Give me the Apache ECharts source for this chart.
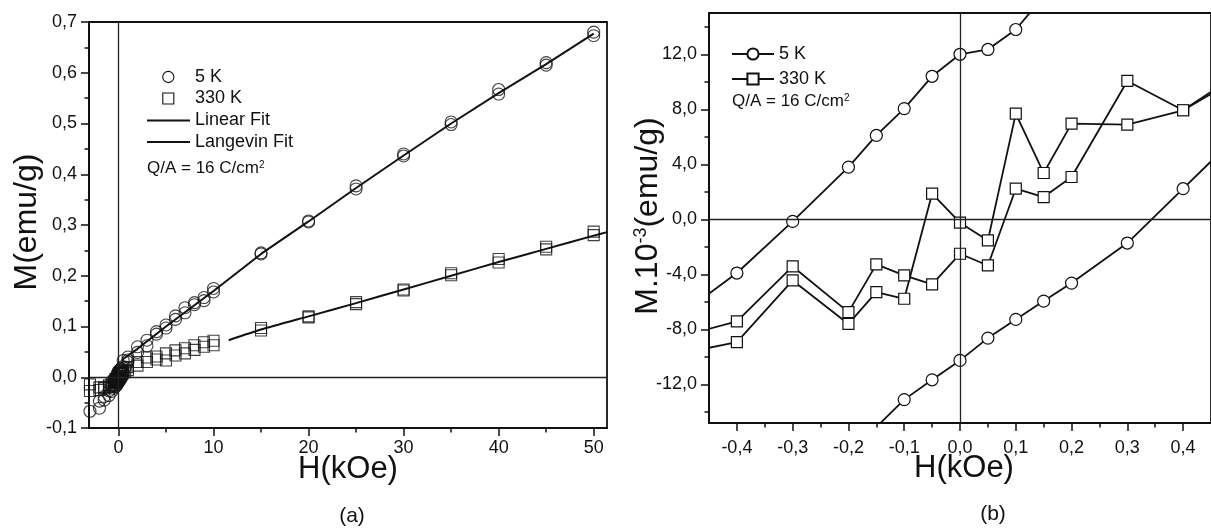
<!DOCTYPE html>
<html>
<head>
<meta charset="utf-8">
<script src="https://cdn.jsdelivr.net/npm/echarts@6.0.0/dist/echarts.min.js"></script>
<style>
html,body{margin:0;padding:0;background:#fff;}
#chart{width:1211px;height:528px;}
</style>
</head>
<body>
<div id="chart"></div>
<script>
// ---------- Panel (a): M (emu/g) vs H (kOe) ----------
const a5K = [[50,0.68],[50,0.673],[45,0.62],[45,0.615],[40,0.567],[40,0.558],[35,0.503],[35,0.498],
  [30,0.44],[30,0.436],[25,0.377],[25,0.371],[20,0.308],[20,0.306],[15,0.245],[15,0.243],
  [10,0.175],[10,0.168],[9,0.157],[9,0.151],[8,0.147],[8,0.143],[7,0.137],[7,0.127],
  [6,0.121],[6,0.114],[5,0.103],[5,0.097],[4,0.09],[4,0.085],[3,0.073],[3,0.062],
  [2,0.06],[2,0.049],[1,0.04],[1,0.034],[0.5,0.033],[0.4,0.0205],[0.3,0.0175],[0.2,0.0155],
  [0.1,0.0138],[0,0.012],[-0.1,0.008],[-0.2,0.0038],[-0.3,-0.0002],[-0.4,-0.0039],[-0.5,-0.009],
  [-0.7,-0.018],[-1,-0.027],[-1.5,-0.038],[-2,-0.047],[-3,-0.067],[-2,-0.061],[-1.5,-0.045],
  [-1,-0.036],[-0.7,-0.028],[-0.5,-0.022],[-0.4,-0.019],[-0.3,-0.018],[-0.2,-0.0165],[-0.1,-0.0131],
  [0,-0.0103],[0.1,-0.0073],[0.2,-0.0046],[0.3,-0.0017],[0.4,0.0022],[0.5,0.008],[0.7,0.02],[1,0.03]];
const a330K = [[50,0.287],[50,0.28],[45,0.257],[45,0.252],[40,0.233],[40,0.226],[35,0.205],[35,0.201],
  [30,0.173],[30,0.171],[25,0.148],[25,0.144],[20,0.12],[20,0.118],[15,0.097],[15,0.092],
  [10,0.072],[10,0.063],[9,0.069],[9,0.06],[8,0.063],[8,0.054],[7,0.057],[7,0.047],
  [6,0.053],[6,0.043],[5,0.047],[5,0.033],[4,0.041],[4,0.035],[3,0.039],[3,0.03],
  [2,0.03],[2,0.023],[1,0.02],[1,0.014],[0.5,0.012],[0.4,0.008],[0.3,0.01],[0.2,0.007],
  [0.1,0.0077],[0,-0.0002],[-0.1,-0.004],[-0.2,-0.0067],[-0.3,-0.0034],[-0.4,-0.0074],[-0.5,-0.009],
  [-0.7,-0.012],[-1,-0.016],[-1.5,-0.02],[-2,-0.02],[-3,-0.027],[-3,-0.014],[-2,-0.025],
  [-1.5,-0.022],[-1,-0.019],[-0.7,-0.015],[-0.5,-0.011],[-0.4,-0.0089],[-0.3,-0.0044],[-0.2,-0.0076],
  [-0.1,-0.0058],[0,-0.0025],[0.1,0.0022],[0.2,0.0031],[0.3,0.0069],[0.4,0.0079],[0.5,0.009],[0.7,0.011]];
const aLinearFit = [[0.35,0.034],[2,0.056],[5,0.1],[10,0.17],[15,0.243],[20,0.307],[25,0.373],
  [30,0.437],[35,0.5],[40,0.56],[45,0.617],[50,0.677]];
const aLangevinFit = [[11.6,0.073],[15,0.094],[20,0.12],[25,0.146],[30,0.173],[35,0.2],
  [40,0.227],[45,0.253],[50,0.279],[51.4,0.286]];
const aXTicks = [0,10,20,30,40,50];
const aXMinor = [5,15,25,35,45];
const aYTicks = [-0.1,0,0.1,0.2,0.3,0.4,0.5,0.6,0.7];
const aYMinor = [-0.05,0.05,0.15,0.25,0.35,0.45,0.55,0.65];
const aLegendNames = ['5 K', '330 K', 'Linear Fit', 'Langevin Fit'];

// ---------- Panel (b): M (10^-3 emu/g) vs H (kOe), low field ----------
const b5KUpper = [[-0.5,-6.9],[-0.4,-3.9],[-0.3,-0.15],[-0.2,3.8],[-0.15,6.1],[-0.1,8.05],
  [-0.05,10.4],[0,12.0],[0.05,12.35],[0.1,13.8],[0.15,16.2]];
const b5KLower = [[-0.2,-16.5],[-0.15,-15.1],[-0.1,-13.1],[-0.05,-11.66],[0,-10.25],[0.05,-8.63],
  [0.1,-7.27],[0.15,-5.94],[0.2,-4.63],[0.3,-1.72],[0.4,2.23],[0.5,6.2]];
const b330KA = [[-0.5,-8.5],[-0.4,-7.42],[-0.3,-3.42],[-0.2,-6.74],[-0.15,-3.27],[-0.1,-4.07],
  [-0.05,-4.73],[0,-2.5],[0.05,-3.35],[0.1,2.23],[0.15,1.62],[0.2,3.08],[0.3,10.06],[0.4,7.93],[0.5,10.6]];
const b330KB = [[-0.5,-9.75],[-0.4,-8.92],[-0.3,-4.44],[-0.2,-7.6],[-0.15,-5.29],[-0.1,-5.77],
  [-0.05,1.87],[0,-0.24],[0.05,-1.53],[0.1,7.69],[0.15,3.37],[0.2,6.96],[0.3,6.89],[0.4,7.93],[0.5,10.3]];
const bXTicks = [-0.4,-0.3,-0.2,-0.1,0,0.1,0.2,0.3,0.4];
const bXMinor = [-0.35,-0.25,-0.15,-0.05,0.05,0.15,0.25,0.35];
const bYTicks = [-12,-8,-4,0,4,8,12];
const bYMinor = [-14,-10,-6,-2,2,6,10,14];

const FONT = '"Liberation Sans", Arial, sans-serif';
const INK = '#111';
const comma1 = v => (Math.abs(v) < 1e-9 ? 0 : v).toFixed(1).replace('.', ',');

function majorAxis(grid, min, max, ticks, fmt, margin, extra) {
  return Object.assign({
    gridIndex: grid, type: 'value', min: min, max: max,
    axisLine: { show: true, onZero: false, lineStyle: { color: INK, width: 2 } },
    axisTick: { show: true, inside: false, length: 8, customValues: ticks, lineStyle: { color: INK, width: 1.5 } },
    axisLabel: { show: true, customValues: ticks, formatter: fmt, margin: margin,
      fontSize: 18, color: INK, fontFamily: FONT },
    splitLine: { show: false }, minorTick: { show: false }
  }, extra);
}
function minorAxis(grid, min, max, ticks, extra) {
  return Object.assign({
    gridIndex: grid, type: 'value', min: min, max: max,
    axisLine: { show: false, onZero: false },
    axisTick: { show: true, inside: false, length: 4.5, customValues: ticks, lineStyle: { color: INK, width: 1.5 } },
    axisLabel: { show: false },
    splitLine: { show: false }
  }, extra);
}

const hollow = { color: 'rgba(255,255,255,0)', borderColor: INK, borderWidth: 1.1 };
const filledWhite = { color: '#fff', borderColor: INK, borderWidth: 1.2 };
const zeroLines = {
  silent: true, symbol: 'none', animation: false,
  label: { show: false },
  lineStyle: { color: '#222', width: 1.3, type: 'solid' },
  emphasis: { disabled: true },
  data: [{ xAxis: 0 }, { yAxis: 0 }]
};

// Panel (a) key, drawn as plain graphics (marker shapes + line samples)
const legA = { x0: 147, x1: 190, cx: 168.3, tx: 195, rows: [77, 98.5, 120.5, 142] };
const legendAGraphics = [
  { type: 'circle', shape: { cx: legA.cx, cy: legA.rows[0], r: 5.6 },
    style: { fill: 'none', stroke: INK, lineWidth: 1.1 } },
  { type: 'rect', shape: { x: legA.cx - 5.5, y: legA.rows[1] - 5.5, width: 11, height: 11 },
    style: { fill: 'none', stroke: INK, lineWidth: 1.1 } },
  { type: 'line', shape: { x1: legA.x0, y1: legA.rows[2], x2: legA.x1, y2: legA.rows[2] },
    style: { stroke: INK, lineWidth: 2 } },
  { type: 'line', shape: { x1: legA.x0, y1: legA.rows[3], x2: legA.x1, y2: legA.rows[3] },
    style: { stroke: INK, lineWidth: 2 } }
].concat(aLegendNames.map((n, i) => ({
  type: 'text', x: legA.tx, y: legA.rows[i],
  style: { text: n, font: '18px ' + FONT, fill: INK, align: 'left', verticalAlign: 'middle' }
})));

const option = {
  animation: false,
  backgroundColor: '#fff',
  textStyle: { fontFamily: FONT, color: INK },
  grid: [
    { left: 89, top: 22, width: 518, height: 406, show: true, borderColor: INK, borderWidth: 1.8, backgroundColor: 'transparent' },
    { left: 709, top: 13, width: 511, height: 410, show: true, borderColor: INK, borderWidth: 1.8, backgroundColor: 'transparent' }
  ],
  xAxis: [
    majorAxis(0, -3.1, 51.4, aXTicks, v => String(Math.round(v)), 11, { position: 'bottom' }),
    minorAxis(0, -3.1, 51.4, aXMinor, { position: 'bottom' }),
    majorAxis(1, -0.45, 0.45, bXTicks, comma1, 16, { position: 'bottom' }),
    minorAxis(1, -0.45, 0.45, bXMinor, { position: 'bottom' })
  ],
  yAxis: [
    majorAxis(0, -0.1, 0.7, aYTicks, comma1, 12, { position: 'left' }),
    minorAxis(0, -0.1, 0.7, aYMinor, { position: 'left' }),
    majorAxis(1, -14.8, 15, bYTicks, comma1, 12, { position: 'left' }),
    minorAxis(1, -14.8, 15, bYMinor, { position: 'left' })
  ],
  legend: [
    {
      orient: 'vertical', left: 731, top: 44, itemWidth: 42, itemHeight: 14, itemGap: 5,
      selectedMode: false, padding: 0,
      textStyle: { fontSize: 18, color: INK, fontFamily: FONT, lineHeight: 20 },
      data: ['5\u00a0K', '330\u00a0K']
    }
  ],
  series: [
    { name: '5 K', type: 'scatter', xAxisIndex: 0, yAxisIndex: 0, data: a5K,
      symbol: 'circle', symbolSize: 12, itemStyle: hollow, z: 3,
      markLine: zeroLines },
    { name: '330 K', type: 'scatter', xAxisIndex: 0, yAxisIndex: 0, data: a330K,
      symbol: 'rect', symbolSize: 11, itemStyle: hollow, z: 3 },
    { name: 'Linear Fit', type: 'line', xAxisIndex: 0, yAxisIndex: 0, data: aLinearFit,
      symbol: 'none', lineStyle: { color: INK, width: 2 }, itemStyle: { color: INK }, z: 4 },
    { name: 'Langevin Fit', type: 'line', xAxisIndex: 0, yAxisIndex: 0, data: aLangevinFit,
      symbol: 'none', smooth: 0.2, lineStyle: { color: INK, width: 2 }, itemStyle: { color: INK }, z: 4 },

    { name: '5\u00a0K', type: 'line', xAxisIndex: 2, yAxisIndex: 2, data: b5KUpper,
      symbol: 'circle', symbolSize: 12, showSymbol: true, itemStyle: filledWhite,
      lineStyle: { color: INK, width: 1.8 }, z: 3, markLine: zeroLines },
    { name: '5\u00a0K', type: 'line', xAxisIndex: 2, yAxisIndex: 2, data: b5KLower,
      symbol: 'circle', symbolSize: 12, showSymbol: true, itemStyle: filledWhite,
      lineStyle: { color: INK, width: 1.8 }, z: 3 },
    { name: '330\u00a0K', type: 'line', xAxisIndex: 2, yAxisIndex: 2, data: b330KA,
      symbol: 'rect', symbolSize: 11, showSymbol: true, itemStyle: filledWhite,
      lineStyle: { color: INK, width: 1.8 }, z: 3 },
    { name: '330\u00a0K', type: 'line', xAxisIndex: 2, yAxisIndex: 2, data: b330KB,
      symbol: 'rect', symbolSize: 11, showSymbol: true, itemStyle: filledWhite,
      lineStyle: { color: INK, width: 1.8 }, z: 3 }
  ],
  graphic: legendAGraphics.concat([
    { type: 'text', left: 147, top: 160, style: {
        text: 'Q/A = 16 C/cm{s|2}', font: '17px ' + FONT, fill: INK,
        rich: { s: { fontSize: 10, fontFamily: FONT, verticalAlign: 'top', lineHeight: 12, fill: INK } } } },
    { type: 'text', left: 732, top: 93, style: {
        text: 'Q/A = 16 C/cm{s|2}', font: '17px ' + FONT, fill: INK,
        rich: { s: { fontSize: 10, fontFamily: FONT, verticalAlign: 'top', lineHeight: 12, fill: INK } } } },
    { type: 'text', x: 27, y: 222, rotation: Math.PI / 2, style: {
        text: 'M(emu/g)', font: '32px ' + FONT, fill: INK, align: 'center', verticalAlign: 'middle' } },
    { type: 'text', x: 648, y: 216, rotation: Math.PI / 2, style: {
        text: 'M.10{s|-3}(emu/g)', font: '32px ' + FONT, fill: INK, align: 'center', verticalAlign: 'middle',
        rich: { s: { fontSize: 18, fontFamily: FONT, verticalAlign: 'top', lineHeight: 20, fill: INK } } } },
    { type: 'text', x: 348, y: 469, style: {
        text: 'H(kOe)', font: '31px ' + FONT, fill: INK, align: 'center', verticalAlign: 'middle' } },
    { type: 'text', x: 964, y: 468, style: {
        text: 'H(kOe)', font: '31px ' + FONT, fill: INK, align: 'center', verticalAlign: 'middle' } },
    { type: 'text', x: 352, y: 516, style: {
        text: '(a)', font: '21px ' + FONT, fill: INK, align: 'center', verticalAlign: 'middle' } },
    { type: 'text', x: 993, y: 514, style: {
        text: '(b)', font: '21px ' + FONT, fill: INK, align: 'center', verticalAlign: 'middle' } }
  ])
};

const chart = echarts.init(document.getElementById('chart'), null, { renderer: 'canvas' });
chart.setOption(option);
</script>
</body>
</html>
